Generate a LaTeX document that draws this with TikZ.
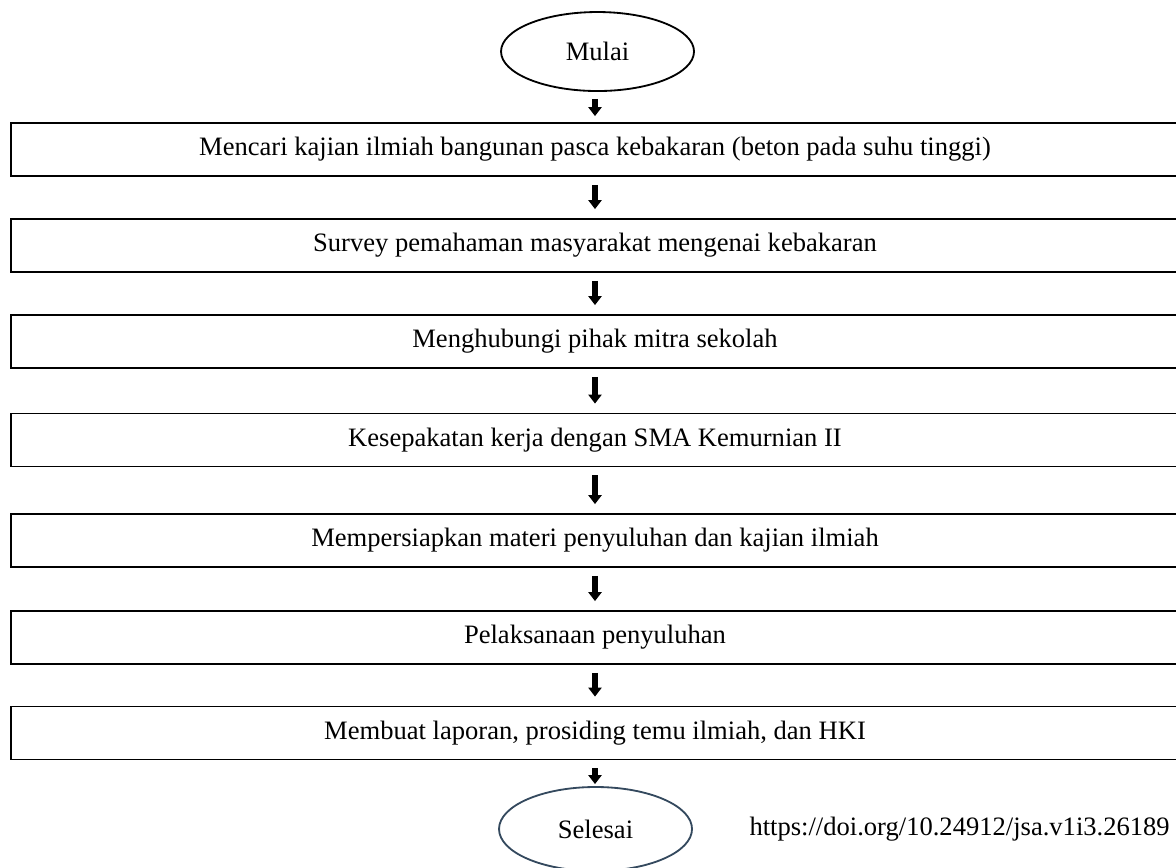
\documentclass[tikz,border=0pt]{standalone}
\usepackage{fontspec}
\setmainfont{Liberation Serif}
\usetikzlibrary{arrows.meta,positioning,shapes.geometric}
\definecolor{slateline}{RGB}{52,73,94}

\begin{document}
\begin{tikzpicture}[x=1cm,y=1cm,font=\fontsize{18.9pt}{22pt}\selectfont,inner sep=0pt,
  stepbox/.style={draw,line width=1.3pt,minimum width=29.2cm,minimum height=1.325cm},
  endcap/.style={ellipse,draw,line width=1.3pt,minimum width=4.825cm},
  arr/.style={line width=3.8pt,-{Triangle[width=9.3pt,length=6.4pt]},shorten <=.2cm,shorten >=.225cm}]
\path[use as bounding box,clip] (0,0) rectangle (29.4,-21.7);
\node[endcap,minimum height=1.975cm] (mulai) at (14.938,-1.288) {Mulai};
\node[stepbox] (b1) at (14.875,-3.738) {Mencari kajian ilmiah bangunan pasca kebakaran (beton pada suhu tinggi)};
\node[stepbox] (b2) at (14.875,-6.138) {Survey pemahaman masyarakat mengenai kebakaran};
\node[stepbox] (b3) at (14.875,-8.538) {Menghubungi pihak mitra sekolah};
\node[stepbox] (b4) at (14.875,-11.000) {Kesepakatan kerja dengan SMA Kemurnian II};
\node[stepbox] (b5) at (14.875,-13.513) {Mempersiapkan materi penyuluhan dan kajian ilmiah};
\node[stepbox] (b6) at (14.875,-15.938) {Pelaksanaan penyuluhan};
\node[stepbox] (b7) at (14.875,-18.325) {Membuat laporan, prosiding temu ilmiah, dan HKI};
\node[endcap,draw=slateline,minimum height=2.1cm] (selesai) at (14.888,-20.725) {Selesai};
\node[anchor=east] (doi) at (29.250,-20.725) {https://doi.org/10.24912/jsa.v1i3.26189};
\draw[arr,shorten <=.175cm,shorten >=.15cm] (mulai.south -| b1.north) -- (b1.north);
\foreach \a/\b in {b1/b2,b2/b3,b3/b4,b4/b5,b5/b6,b6/b7}
  \draw[arr] (\a.south) -- (\b.north);
\draw[arr,shorten >=.05cm] (b7.south) -- (b7.south |- selesai.north);
\end{tikzpicture}
\end{document}
